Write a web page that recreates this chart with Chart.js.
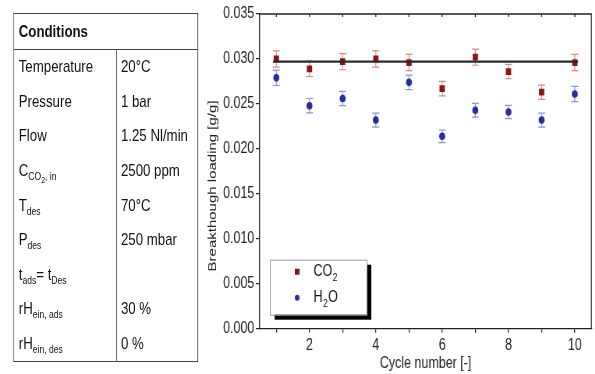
<!DOCTYPE html>
<html>
<head>
<meta charset="utf-8">
<script src="https://cdn.jsdelivr.net/npm/chart.js@4.4.1/dist/chart.umd.min.js"></script>
<style>
  html, body { margin: 0; padding: 0; background: #fff; }
  /* the original figure is squeezed horizontally, so everything is laid out wider and scaled */
  #wrap { position: absolute; left: 0; top: 0; width: 763px; height: 374px; transform: scaleX(0.78); transform-origin: 0 0; }
  #chart { position: absolute; left: 0; top: 0; }
  #cond { position: absolute; left: 17px; top: 13px; width: 236px; border-collapse: collapse; table-layout: fixed;
          border: 1.4px solid #444; font-family: 'Liberation Sans', Arial, sans-serif; font-size: 17px; color: #111; }
  #cond td, #cond th { padding: 0 0 0 6px; height: 34.6px; text-align: left; white-space: nowrap; vertical-align: middle; }
  #cond th { height: 35px; font-weight: bold; border-bottom: 1.4px solid #444; }
  #cond td.name { border-right: 1.4px solid #444; }
  #cond td.val { padding-left: 5px; }
  #cond sub { font-size: 11px; vertical-align: -4px; line-height: 0; }
  #cond sub sub { font-size: 9px; vertical-align: -3px; }
</style>
</head>
<body>
<div id="wrap">
  <canvas id="chart" width="763" height="374"></canvas>
  <table id="cond">
    <colgroup><col style="width:132px"><col style="width:104px"></colgroup>
    <tr><th colspan="2">Conditions</th></tr>
    <tr><td class="name">Temperature</td><td class="val">20°C</td></tr>
    <tr><td class="name">Pressure</td><td class="val">1 bar</td></tr>
    <tr><td class="name">Flow</td><td class="val">1.25 Nl/min</td></tr>
    <tr><td class="name">C<sub>CO<sub>2</sub>, in</sub></td><td class="val">2500 ppm</td></tr>
    <tr><td class="name">T<sub>des</sub></td><td class="val">70°C</td></tr>
    <tr><td class="name">P<sub>des</sub></td><td class="val">250 mbar</td></tr>
    <tr><td class="name">t<sub>ads</sub>= t<sub>Des</sub></td><td class="val"></td></tr>
    <tr><td class="name">rH<sub>ein, ads</sub></td><td class="val">30 %</td></tr>
    <tr><td class="name">rH<sub>ein, des</sub></td><td class="val">0 %</td></tr>
  </table>
</div>
<script>
// Values
var cycles = [1, 2, 3, 4, 5, 6, 7, 8, 9, 10];
var co2Loading = [0.0300, 0.0289, 0.0297, 0.0300, 0.0296, 0.0267, 0.0302, 0.0286, 0.0263, 0.0296];
var co2Error = [0.0009, 0.00085, 0.0009, 0.0009, 0.0009, 0.0008, 0.0009, 0.0008, 0.0008, 0.0009];
var h2oLoading = [0.0279, 0.0248, 0.0256, 0.0232, 0.0274, 0.0214, 0.0243, 0.0241, 0.0232, 0.0261];
var h2oError = [0.00085, 0.0008, 0.0008, 0.00078, 0.0008, 0.0007, 0.00076, 0.00074, 0.00078, 0.00085];
var meanLineX = [0.9, 10.1];
var meanLoading = 0.0297;

var xTicks = [1, 2, 3, 4, 5, 6, 7, 8, 9, 10];
var xTickLabels = ['', '2', '', '4', '', '6', '', '8', '', '10'];
var yTicks = [0, 0.005, 0.010, 0.015, 0.020, 0.025, 0.030, 0.035];
var yTickLabels = ['0.000', '0.005', '0.010', '0.015', '0.020', '0.025', '0.030', '0.035'];

var inkColor = '#222222';
var co2Color = '#8c1515';
var h2oColor = '#2a2e9c';

function toPoints(xs, ys) {
    return xs.map(function(x, i) { return { x: x, y: ys[i] }; });
}

// Vertical error bars with caps, drawn under the markers
var errorBars = {
    id: 'errorBars',
    beforeDatasetsDraw: function(chart) {
        var ctx = chart.ctx;
        var yScale = chart.scales.y;
        chart.data.datasets.forEach(function(ds, i) {
            if (!ds.errors) {
                return;
            }
            var meta = chart.getDatasetMeta(i);
            ctx.save();
            ctx.strokeStyle = ds.errorColor;
            ctx.lineWidth = 1.2;
            meta.data.forEach(function(pt, j) {
                var v = ds.data[j].y;
                var top = yScale.getPixelForValue(v + ds.errors[j]);
                var bot = yScale.getPixelForValue(v - ds.errors[j]);
                ctx.beginPath();
                ctx.moveTo(pt.x, top);
                ctx.lineTo(pt.x, bot);
                ctx.moveTo(pt.x - 4.5, top);
                ctx.lineTo(pt.x + 4.5, top);
                ctx.moveTo(pt.x - 4.5, bot);
                ctx.lineTo(pt.x + 4.5, bot);
                ctx.stroke();
            });
            ctx.restore();
        });
    }
};

// Top and right frame lines, with inward ticks on top
var frame = {
    id: 'frame',
    afterDraw: function(chart) {
        var ctx = chart.ctx;
        var a = chart.chartArea;
        var xScale = chart.scales.x;
        ctx.save();
        ctx.strokeStyle = inkColor;
        ctx.lineWidth = 1.3;
        ctx.beginPath();
        ctx.moveTo(a.left, a.top);
        ctx.lineTo(a.right, a.top);
        ctx.lineTo(a.right, a.bottom);
        xTicks.forEach(function(v) {
            var px = xScale.getPixelForValue(v);
            ctx.moveTo(px, a.top);
            ctx.lineTo(px, a.top + 3);
        });
        ctx.stroke();
        ctx.restore();
    }
};

// Boxed legend with a drop shadow, in the lower left of the plot
var boxLegend = {
    id: 'boxLegend',
    afterDraw: function(chart) {
        var ctx = chart.ctx;
        var a = chart.chartArea;
        var left = a.left + 13;
        var top = a.bottom - 69;
        var w = 124, h = 55;
        ctx.save();
        ctx.fillStyle = '#000';
        ctx.fillRect(left + 6, top + 5, w, h);
        ctx.fillStyle = '#fff';
        ctx.fillRect(left, top, w, h);
        ctx.strokeStyle = '#999';
        ctx.lineWidth = 1;
        ctx.strokeRect(left + 0.5, top + 0.5, w, h);

        var items = [
            { ds: chart.data.datasets[0], main: 'CO', sub: '2', tail: '', y: top + 12 },
            { ds: chart.data.datasets[1], main: 'H', sub: '2', tail: 'O', y: top + 38 }
        ];
        ctx.textBaseline = 'middle';
        items.forEach(function(it) {
            var mx = left + 35;
            ctx.fillStyle = it.ds.backgroundColor;
            if (it.ds.pointStyle === 'rect') {
                ctx.fillRect(mx - 3, it.y - 3, 6, 6);
            } else {
                ctx.beginPath();
                ctx.arc(mx, it.y, 3, 0, Math.PI * 2);
                ctx.fill();
            }
            var tx = left + 56;
            ctx.fillStyle = '#111';
            ctx.font = '16px "Liberation Sans", Arial, sans-serif';
            ctx.fillText(it.main, tx, it.y);
            tx += ctx.measureText(it.main).width + 0.5;
            ctx.font = '11px "Liberation Sans", Arial, sans-serif';
            ctx.fillText(it.sub, tx, it.y + 6);
            tx += ctx.measureText(it.sub).width + 0.5;
            ctx.font = '16px "Liberation Sans", Arial, sans-serif';
            ctx.fillText(it.tail, tx, it.y);
        });
        ctx.restore();
    }
};

var tickFont = { family: '"Liberation Sans", Arial, sans-serif', size: 16 };

var chart = new Chart(document.getElementById('chart'), {
    type: 'scatter',
    data: {
        datasets: [
            {
                label: 'CO2',
                data: toPoints(cycles, co2Loading),
                errors: co2Error,
                errorColor: '#d48a8a',
                pointStyle: 'rect',
                pointRadius: 4.8,
                backgroundColor: co2Color,
                borderColor: co2Color,
                borderWidth: 0,
                order: 2
            },
            {
                label: 'H2O',
                data: toPoints(cycles, h2oLoading),
                errors: h2oError,
                errorColor: '#8f92d8',
                pointStyle: 'circle',
                pointRadius: 3.8,
                backgroundColor: h2oColor,
                borderColor: h2oColor,
                borderWidth: 0,
                order: 2
            },
            {
                type: 'line',
                label: 'mean',
                data: toPoints(meanLineX, [meanLoading, meanLoading]),
                borderColor: '#2a2a2a',
                borderWidth: 2.2,
                pointRadius: 0,
                fill: false,
                order: 1
            }
        ]
    },
    options: {
        responsive: false,
        animation: false,
        devicePixelRatio: 1,
        layout: {
            padding: { left: 256, right: 1.5, top: 14, bottom: 0 }
        },
        plugins: {
            legend: { display: false },
            tooltip: { enabled: false }
        },
        scales: {
            x: {
                type: 'linear',
                min: 0.5,
                max: 10.5,
                afterBuildTicks: function(axis) {
                    axis.ticks = xTicks.map(function(v) { return { value: v }; });
                },
                afterFit: function(axis) {
                    axis.height = 45.3;
                },
                ticks: {
                    color: inkColor,
                    font: tickFont,
                    padding: 3,
                    maxRotation: 0,
                    autoSkip: false,
                    callback: function(value) {
                        var i = xTicks.indexOf(value);
                        return i >= 0 ? xTickLabels[i] : '';
                    }
                },
                grid: {
                    drawOnChartArea: false,
                    drawTicks: true,
                    tickLength: 4,
                    color: inkColor,
                    lineWidth: 1.2
                },
                border: { display: true, color: inkColor, width: 1.3 },
                title: {
                    display: true,
                    text: 'Cycle number [-]',
                    color: inkColor,
                    font: tickFont,
                    padding: { top: 0, bottom: 1 }
                }
            },
            y: {
                min: 0,
                max: 0.035,
                afterBuildTicks: function(axis) {
                    axis.ticks = yTicks.map(function(v) { return { value: v }; });
                },
                afterFit: function(axis) {
                    axis.width = 77;
                },
                ticks: {
                    color: inkColor,
                    font: tickFont,
                    padding: 2,
                    autoSkip: false,
                    callback: function(value) {
                        var i = yTicks.indexOf(value);
                        return i >= 0 ? yTickLabels[i] : '';
                    }
                },
                grid: {
                    drawOnChartArea: false,
                    drawTicks: true,
                    tickLength: 5,
                    color: inkColor,
                    lineWidth: 1.2
                },
                border: { display: true, color: inkColor, width: 1.3 },
                title: {
                    display: true,
                    text: 'Breakthough loading [g/g]       ',
                    color: inkColor,
                    font: { family: '"Liberation Sans", Arial, sans-serif', size: 15 },
                    padding: { top: 8, bottom: 0 }
                }
            }
        }
    },
    plugins: [errorBars, frame, boxLegend]
});
</script>
</body>
</html>
